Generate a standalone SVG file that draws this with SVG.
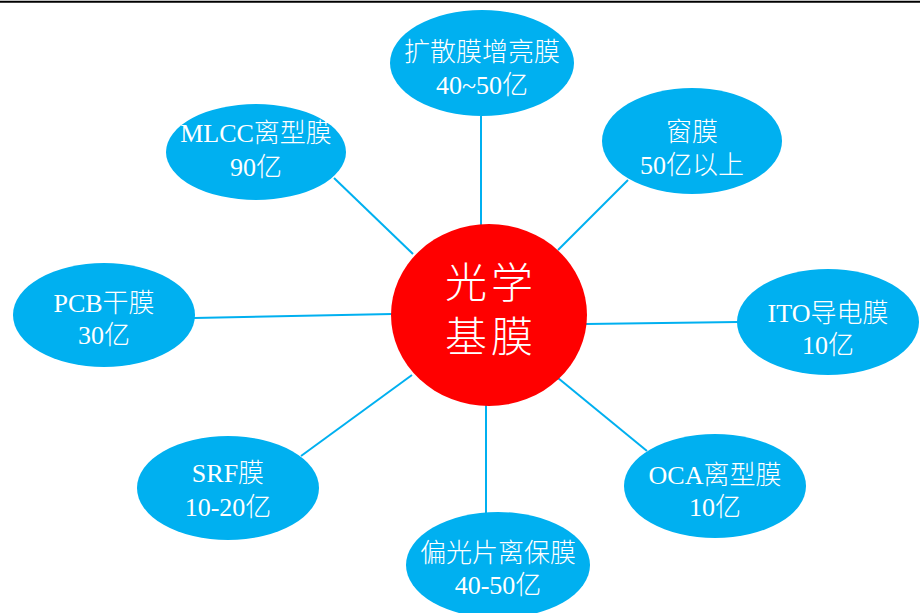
<svg xmlns="http://www.w3.org/2000/svg" width="920" height="613" viewBox="0 0 920 613">
<style>
.node ellipse{fill:#00b0f0}
.node text{fill:#ffffff;font-family:"Liberation Serif","Noto Sans CJK SC",serif;font-size:26px;text-anchor:middle;font-weight:300}
.center text{fill:#ffffff;font-family:"Liberation Serif","Noto Sans CJK SC",serif;font-size:42px;text-anchor:middle;font-weight:300;letter-spacing:4px}
#connectors line{stroke:#00b0f0;stroke-width:2}
</style>
<rect x="0" y="0" width="920" height="613" fill="#ffffff"/>
<line x1="0" y1="1.7" x2="920" y2="1.7" stroke="#000000" stroke-width="2"/>
<g id="connectors">
<line x1="481" y1="116" x2="481" y2="226"/>
<line x1="334" y1="178" x2="413" y2="254"/>
<line x1="628" y1="180" x2="558" y2="250"/>
<line x1="194" y1="318" x2="392" y2="314"/>
<line x1="586" y1="324" x2="738" y2="322"/>
<line x1="301" y1="456" x2="412" y2="375"/>
<line x1="486" y1="404" x2="486" y2="513"/>
<line x1="558" y1="378" x2="647" y2="451"/>
</g>
<g id="center" class="center">
<ellipse cx="489" cy="315" rx="98" ry="91" fill="#ff0000"/>
<text x="491" y="298">光学</text>
<text x="491" y="352">基膜</text>
</g>
<g id="n-top" class="node">
<ellipse cx="482" cy="63" rx="92" ry="53"/>
<text x="482" y="61">扩散膜增亮膜</text>
<text x="482" y="94">40~50亿</text>
</g>
<g id="n-mlcc" class="node">
<ellipse cx="256" cy="152" rx="90" ry="48"/>
<text x="256" y="142">MLCC离型膜</text>
<text x="256" y="176">90亿</text>
</g>
<g id="n-window" class="node">
<ellipse cx="692" cy="141" rx="90" ry="53"/>
<text x="692" y="141">窗膜</text>
<text x="692" y="174">50亿以上</text>
</g>
<g id="n-pcb" class="node">
<ellipse cx="104" cy="315" rx="91" ry="52"/>
<text x="104" y="312">PCB干膜</text>
<text x="104" y="344">30亿</text>
</g>
<g id="n-ito" class="node">
<ellipse cx="828" cy="322" rx="91" ry="53"/>
<text x="828" y="322">ITO导电膜</text>
<text x="828" y="354">10亿</text>
</g>
<g id="n-srf" class="node">
<ellipse cx="228" cy="488" rx="91" ry="52"/>
<text x="228" y="482">SRF膜</text>
<text x="228" y="516">10-20亿</text>
</g>
<g id="n-pol" class="node">
<ellipse cx="498" cy="565" rx="92" ry="53"/>
<text x="498" y="562">偏光片离保膜</text>
<text x="498" y="594">40-50亿</text>
</g>
<g id="n-oca" class="node">
<ellipse cx="715" cy="486" rx="91" ry="52"/>
<text x="715" y="484">OCA离型膜</text>
<text x="715" y="516">10亿</text>
</g>
</svg>
